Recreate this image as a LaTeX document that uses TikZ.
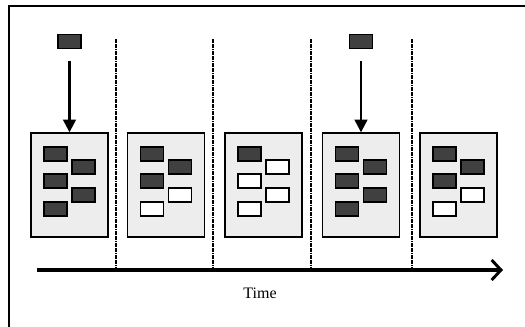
\documentclass[tikz,border=0pt]{standalone}
\usepackage{fontspec}
\setmainfont{Liberation Serif}
\usetikzlibrary{arrows.meta}

\begin{document}
\begin{tikzpicture}[x=0.75pt,y=-0.75pt,
  panel/.style={draw=black, fill=black!7, line width=1pt, minimum width=57.75pt, minimum height=78pt, inner sep=0pt},
  blk/.style={draw=black, line width=0.9pt, minimum width=17.25pt, minimum height=10.5pt, inner sep=0pt},
  used/.style={fill=black!75},
  free/.style={fill=white},
  divider/.style={line width=1.5pt, dash pattern=on 1.3pt off 0.5pt},
  drop/.style={line width=1.7pt, -{Triangle[length=9.5pt,width=9.5pt]}, shorten <=9pt}]
\useasboundingbox (0,0) rectangle (525,327);
\draw[line width=1.1pt] (9,327) -- (9,6) -- (525,6);
% time axis
\coordinate (t0) at (37,270);
\coordinate (t1) at (503,270);
\foreach \n/\x in {1/116, 2/213, 3/311, 4/412}{
  \coordinate (d\n) at (\x,39);
  \draw[divider] (d\n) -- (d\n |- t0);
}
\draw[line width=2.4pt, -{Straight Barb[length=7pt,width=15pt,line width=2.2pt]}] (t0) -- (t1);
\node[font=\fontsize{12}{14}\selectfont] (lbl) at (260,293) {Time};
% panels
\foreach \n/\x/\a/\b/\c/\d/\e in {1/69.5/used/used/used/used/used, 2/166/used/used/free/used/free, 3/263.5/used/free/free/free/free, 4/361/used/used/used/used/used, 5/458.5/used/used/free/used/free}{
  \node[panel] (p\n) at (\x,185) {};
  \node[blk,\a] (p\n-a) at (\x-14,154) {};
  \node[blk,\b] (p\n-b) at (\x-14,181) {};
  \node[blk,\c] (p\n-c) at (\x-14,209) {};
  \node[blk,\d] (p\n-d) at (\x+14,167) {};
  \node[blk,\e] (p\n-e) at (\x+14,195) {};
}
% incoming blocks
\node[blk,used] (new1) at (69.5,41.5) {};
\node[blk,used] (new4) at (361,41.5) {};
\draw[drop] (new1) -- (p1.north);
\draw[drop] (new4) -- (p4.north);
\end{tikzpicture}
\end{document}
